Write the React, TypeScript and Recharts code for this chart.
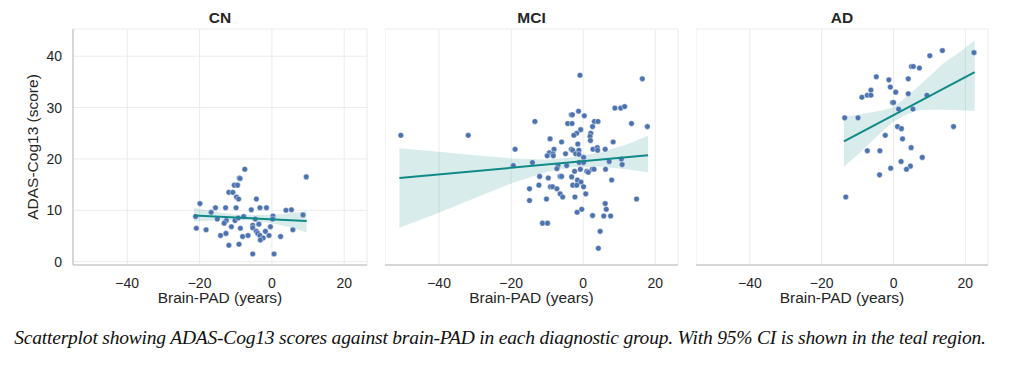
import { ComposedChart, Area, Scatter, XAxis, YAxis, CartesianGrid } from "recharts"

// values
const xTicks = [-40, -20, 0, 20]
const yTicks = [0, 10, 20, 30, 40]
const groups = ["CN", "MCI", "AD"]

const cnPad = [9.5, -7.5, -9.0, -8.8, -10.4, -9.5, -11.9, -10.8, -9.8, -9.2, -4.3, -19.9, -15.6, -12.8, -9.9, -5.7, -3.3, -1.5, 3.9, 5.4, -16.8, -21.1, -7.8, 0.3, 8.6, -15.1, -12.6, -10.2, -9.3, -4.6, 0.2, -13.2, -5.3, -3.6, -0.4, -20.9, -18.2, -11.2, -8.7, -5.3, 5.8, -4.3, -1.8, -3.9, -12.7, -14.2, -8.1, -6.6, -3.3, -0.8, 2.4, -2.4, -3.2, -11.9, -9.1, -5.3, 0.6]
const cnScore = [16.5, 18.0, 16.3, 16.2, 14.9, 14.9, 13.5, 13.5, 12.6, 12.2, 12.2, 11.3, 10.5, 10.5, 10.5, 10.1, 10.5, 10.5, 10.0, 10.1, 9.6, 8.8, 8.8, 8.9, 9.1, 8.3, 8.0, 8.0, 8.5, 8.3, 8.3, 7.5, 7.1, 7.3, 6.8, 6.5, 6.2, 6.8, 6.5, 6.6, 6.2, 5.9, 5.9, 5.5, 5.5, 5.1, 4.9, 5.1, 5.1, 5.1, 4.9, 4.6, 4.2, 3.2, 3.4, 1.5, 1.5]

const mciPad = [-50.6, -31.9, -13.4, -0.9, 16.4, 8.8, 10.4, 11.5, -1.3, -3.3, -3.0, 0.3, -4.3, -3.1, 3.1, 4.1, 13.4, 17.8, 2.6, -0.7, -1.8, -2.6, 2.1, 1.9, -9.2, 2.0, -6.0, 8.3, -1.5, -18.9, -8.1, -3.3, -2.9, -1.2, 2.7, 3.9, 4.0, 6.1, -9.4, -8.4, -10.0, -8.3, -4.9, -2.1, -1.2, 0.1, 10.6, 7.2, -1.1, 0.1, -14.1, -19.4, -7.0, -4.6, 10.8, -7.3, -2.4, -0.8, 2.5, 3.0, 6.2, 1.0, 1.4, -12.1, -9.7, -6.4, -6.0, -3.2, 7.9, -1.6, -0.6, -12.3, -2.9, -1.8, -9.1, -8.5, 0.1, -14.9, -7.3, -6.4, -5.7, 0.7, -10.2, -2.3, -14.9, 14.8, 6.1, 6.4, -0.4, -1.7, 2.6, 5.7, 7.6, -11.3, -9.9, 4.7, 4.2]
const mciScore = [24.6, 24.6, 27.3, 36.3, 35.6, 29.9, 29.9, 30.2, 29.3, 28.6, 28.6, 28.4, 26.9, 26.9, 27.3, 27.3, 26.9, 26.3, 26.3, 25.7, 25.0, 24.6, 25.0, 24.4, 23.9, 23.6, 23.3, 23.3, 22.9, 21.9, 21.9, 21.9, 21.7, 21.7, 21.9, 22.2, 21.7, 21.9, 21.2, 21.0, 20.6, 20.6, 21.0, 21.0, 20.9, 20.3, 20.0, 19.5, 19.3, 19.3, 19.3, 18.7, 18.7, 18.7, 18.9, 18.1, 17.6, 18.0, 18.0, 18.0, 18.0, 17.6, 17.4, 16.6, 16.3, 16.6, 16.6, 16.5, 15.9, 15.9, 15.5, 14.9, 14.9, 14.9, 14.6, 14.6, 14.6, 14.2, 14.2, 13.2, 12.6, 13.2, 12.2, 12.6, 11.9, 12.2, 11.3, 10.2, 10.2, 9.6, 9.0, 8.9, 8.9, 7.5, 7.5, 5.9, 2.6]

const adPad = [13.6, 10.1, 22.4, 5.0, 5.5, 7.2, -4.8, -1.3, 4.1, -0.9, -6.3, 0.6, 4.1, -7.3, -6.3, -8.8, 9.3, -0.3, 0.0, 1.4, 5.4, -13.6, -9.9, 1.1, 2.2, 16.7, -2.3, 2.5, 4.9, -7.3, -3.8, 8.0, 2.1, 4.7, -0.8, 3.6, -3.9, -13.3]
const adScore = [41.1, 40.1, 40.7, 38.0, 38.0, 37.7, 36.0, 35.4, 35.6, 34.0, 33.4, 33.0, 32.7, 32.4, 32.4, 32.0, 32.4, 31.0, 31.0, 29.7, 29.7, 28.0, 28.0, 26.3, 25.9, 26.3, 24.6, 23.9, 22.2, 21.6, 21.6, 20.3, 19.5, 18.6, 18.2, 18.0, 16.9, 12.6]

// regression line end points
const cnFitPad = [-21.5, 9.6]
const cnFitScore = [9.0, 7.9]
const mciFitPad = [-51.0, 18.0]
const mciFitScore = [16.3, 20.7]
const adFitPad = [-13.8, 22.6]
const adFitScore = [23.4, 36.9]

// 95% CI band edges
const cnBandPad = [-21.5, -18, -14, -10, -6, -2, 2, 6, 9.6]
const cnBandLow = [7.8, 7.9, 8.0, 8.1, 8.0, 7.7, 7.2, 6.5, 5.7]
const cnBandHigh = [10.5, 10.0, 9.5, 9.2, 9.1, 9.1, 9.2, 9.5, 9.8]
const mciBandPad = [-51, -40, -30, -20, -10, -3, 5, 12, 18]
const mciBandLow = [6.6, 9.5, 12.4, 15.2, 17.5, 18.4, 18.5, 18.0, 17.4]
const mciBandHigh = [22.1, 21.4, 20.7, 20.1, 19.9, 20.3, 21.3, 22.8, 24.5]
const adBandPad = [-13.8, -10, -7, -3, 0, 3.5, 7, 10.5, 14, 18, 22.6]
const adBandLow = [18.5, 20.8, 22.8, 25.5, 27.3, 28.6, 29.5, 29.6, 29.6, 29.5, 29.4]
const adBandHigh = [28.2, 28.6, 29.0, 29.5, 30.1, 32.0, 34.2, 36.4, 38.7, 40.6, 43.1]

const C = { dot: "#4c72b0", teal: "#108a86", grid: "#ebebeb", spine: "#cccccc", ink: "#262626" }
const FONT = "'Liberation Sans', Arial, sans-serif"

const pts = (xs: number[], ys: number[]) => xs.map((x, i) => ({ x, y: ys[i] }))
const band = (xs: number[], lo: number[], hi: number[]) => xs.map((x, i) => ({ x, band: [lo[i], hi[i]] }))

const panels = [
  { pts: pts(cnPad, cnScore), fit: pts(cnFitPad, cnFitScore), band: band(cnBandPad, cnBandLow, cnBandHigh) },
  { pts: pts(mciPad, mciScore), fit: pts(mciFitPad, mciFitScore), band: band(mciBandPad, mciBandLow, mciBandHigh) },
  { pts: pts(adPad, adScore), fit: pts(adFitPad, adFitScore), band: band(adBandPad, adBandLow, adBandHigh) },
]

// chart boxes: left, width, y-axis width
const boxes = [
  { left: 0, width: 370, yw: 73 },
  { left: 385, width: 296, yw: 0 },
  { left: 696, width: 295, yw: 0 },
]

const fmt = (v: number) => (v < 0 ? `\u2212${Math.abs(v)}` : `${v}`)
const tick = { fill: C.ink, fontSize: 14, fontFamily: FONT }

function Dot(p: any) {
  return <circle cx={p.cx} cy={p.cy} r={2.8} fill={C.dot} stroke="#fff" strokeWidth={0.4} />
}

function Panel({ i }: { i: number }) {
  const d = panels[i]
  const b = boxes[i]
  const first = i === 0
  return (
    <div style={{ position: "absolute", left: b.left, top: 0 }}>
      <div style={{
        position: "absolute", left: b.yw, width: b.width - b.yw - 3, top: 7.5, textAlign: "center",
        fontFamily: FONT, fontWeight: 700, fontSize: 15.5, color: C.ink, lineHeight: "20px",
      }}>{groups[i]}</div>
      <ComposedChart width={b.width} height={320} data={d.band} margin={{ top: 29, right: 3, left: 0, bottom: 0 }}>
        <CartesianGrid stroke={C.grid} strokeWidth={1} />
        <XAxis
          dataKey="x" type="number" domain={[-55, 26.3]} ticks={xTicks} allowDataOverflow
          tickFormatter={fmt} tick={tick} tickLine={false} tickMargin={7} height={55}
          axisLine={{ stroke: C.spine, strokeWidth: 1.5 }}
          label={{ value: "Brain-PAD (years)", position: "insideBottom", offset: 17, fill: C.ink, fontSize: 15.5, fontFamily: FONT }}
        />
        <YAxis
          type="number" domain={[-0.65, 45.3]} ticks={yTicks} allowDataOverflow width={b.yw}
          tick={first ? tick : false} tickLine={false} tickMargin={5}
          axisLine={{ stroke: C.spine, strokeWidth: 1.5 }}
          label={first ? { value: "ADAS-Cog13 (score)", angle: -90, position: "center", dx: -4.5, fill: C.ink, fontSize: 15.5, fontFamily: FONT } : undefined}
        />
        <Area dataKey="band" stroke="none" fill={C.teal} fillOpacity={0.16} isAnimationActive={false} />
        <Scatter data={d.pts} dataKey="y" shape={Dot} isAnimationActive={false} />
        <Scatter data={d.fit} dataKey="y" shape={() => <g />} line={{ stroke: C.teal, strokeWidth: 2 }} isAnimationActive={false} />
      </ComposedChart>
    </div>
  )
}

export default function App() {
  return (
    <div style={{ position: "absolute", left: 0, top: 0, width: 1024, height: 381, background: "#fff", overflow: "hidden" }}>
      {[0, 1, 2].map((i) => <Panel key={i} i={i} />)}
      <div style={{
        position: "absolute", left: 0, width: 1000, top: 325.5, textAlign: "center",
        fontFamily: "'Liberation Serif', 'Times New Roman', serif", fontStyle: "italic", fontSize: 19.5, color: "#111",
        letterSpacing: -0.2, lineHeight: "24px", whiteSpace: "nowrap",
      }}>
        Scatterplot showing ADAS-Cog13 scores against brain-PAD in each diagnostic group. With 95% CI is shown in the teal region.
      </div>
    </div>
  )
}
